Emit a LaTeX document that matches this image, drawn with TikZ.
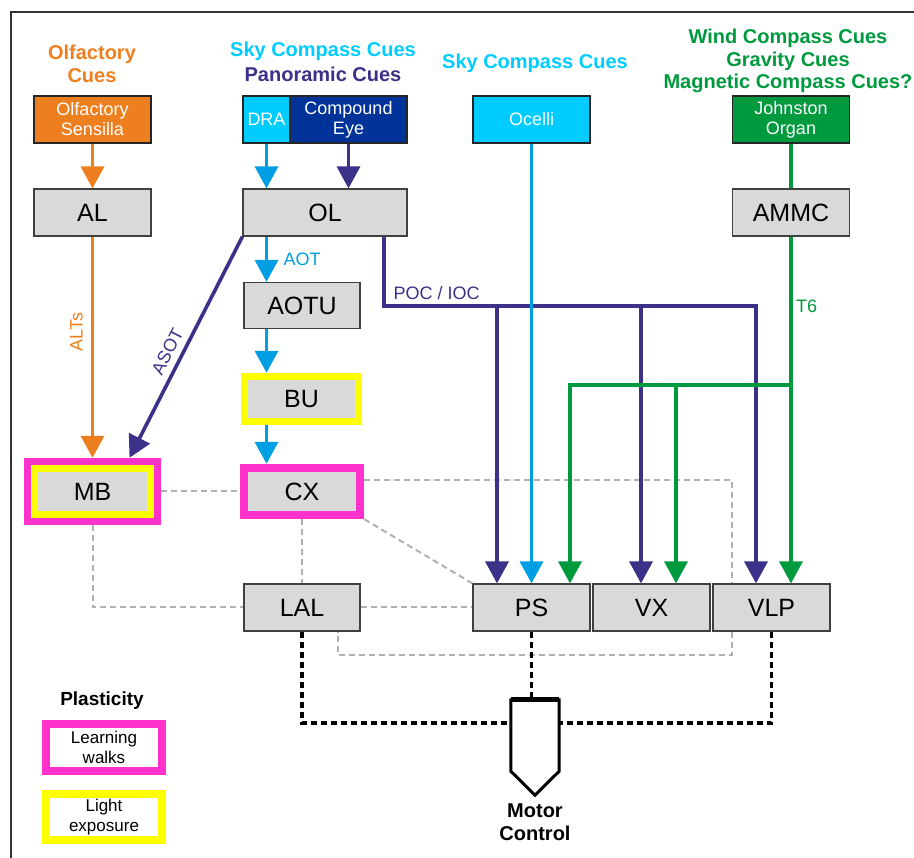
\documentclass[tikz,border=0pt]{standalone}
\usepackage{fontspec}
\setmainfont{Liberation Sans}
\usetikzlibrary{arrows.meta,calc,fit}

\definecolor{olforange}{HTML}{EE7F1E}
\definecolor{skycyan}{HTML}{00CCFF}
\definecolor{skyblue}{HTML}{009FE3}
\definecolor{eyeblue}{HTML}{003399}
\definecolor{panopurple}{HTML}{3B3189}
\definecolor{windgreen}{HTML}{009A3E}
\definecolor{regiongray}{HTML}{D9D9D9}
\definecolor{learnpink}{HTML}{FF33CC}
\definecolor{lightyellow}{HTML}{FFFF00}
\definecolor{linkgray}{HTML}{B0B0B0}

\begin{document}
\begin{tikzpicture}[
  x=1pt,y=-1pt,
  region/.style={draw=black!75,fill=regiongray,line width=1.2pt,minimum width=117pt,minimum height=47pt,inner sep=0pt,font=\fontsize{25}{28}\selectfont},
  organ/.style={draw=black!85,line width=1.2pt,minimum width=117pt,minimum height=47pt,inner sep=0pt,text=white,align=center,font=\fontsize{18}{20}\selectfont},
  core/.style={fill=regiongray,inner sep=0pt,font=\fontsize{25}{28}\selectfont},
  ring/.style={draw=#1,line width=7pt,inner sep=3.5pt},
  cue/.style={font=\bfseries\fontsize{20}{22.5}\selectfont,align=center},
  tract/.style={draw=#1,line width=3.6pt},
  feed/.style={tract=#1,-{Triangle[width=23pt,length=22pt]}},
  tractlabel/.style={font=\fontsize{18}{20}\selectfont,text=#1},
  link/.style={draw=linkgray,line width=2pt,dash pattern=on 6pt off 4pt},
  motorlink/.style={draw=black,line width=3.8pt,dash pattern=on 6pt off 4pt}
]
\useasboundingbox (0,0) rectangle (914,858);
\draw[black!80,line width=1.5pt] (11,858) -- (11,12) -- (914,12);

% Sensory cues and the organs that pick them up.
\node[cue,text=olforange] (olfcue) at (92,64) {Olfactory\\Cues};
\node[cue,text=skycyan] (skycue) at (323,51) {Sky Compass Cues};
\node[cue,text=panopurple] (panocue) at (323,74) {Panoramic Cues};
\node[cue,text=skycyan] (ocellicue) at (535,63) {Sky Compass Cues};
\node[cue,text=windgreen] (windcue) at (788,61) {Wind Compass Cues\\Gravity Cues\\Magnetic Compass Cues?};

\node[organ,fill=olforange] (sens) at (92.5,119.5) {Olfactory\\Sensilla};
\node[organ,fill=skycyan,minimum width=47pt] (dra) at (266.5,119.5) {DRA};
\node[organ,fill=eyeblue] (eye) at (348.5,119.5) {Compound\\Eye};
\node[organ,fill=skycyan] (oc) at (531.5,119.5) {Ocelli};
\node[organ,fill=windgreen] (jo) at (791,119.5) {Johnston\\Organ};

% Brain regions.
\node[region] (al) at (92.5,212.5) {AL};
\node[region,minimum width=164pt] (ol) at (325,212.5) {OL};
\node[region] (ammc) at (791,212.5) {AMMC};
\node[region,minimum width=116pt,minimum height=46pt] (aotu) at (302,305.5) {AOTU};
\node[region,minimum width=116pt] (lal) at (302,607.5) {LAL};
\node[region] (ps) at (531.5,607.5) {PS};
\node[region] (vx) at (651.5,607.5) {VX};
\node[region] (vlp) at (771.5,607.5) {VLP};

\node[core,minimum width=107pt,minimum height=38pt] (bucore) at (301.5,399) {BU};
\node[ring=lightyellow,fit=(bucore)] (bu) {};
\node[core,minimum width=109pt,minimum height=39pt] (mbcore) at (92.5,491.5) {MB};
\node[ring=lightyellow,fit=(mbcore)] (mbinner) {};
\node[ring=learnpink,fit=(mbcore),inner sep=10.5pt] (mb) {};
\node[core,minimum width=108pt,minimum height=39pt] (cxcore) at (302,491.5) {CX};
\node[ring=learnpink,fit=(cxcore),line width=8pt,inner sep=4pt] (cx) {};

% Interconnections between neuropils.
\draw[link] (mb) -- (cx);
\draw[link] (mb) |- (lal);
\draw[link] (cx) -- (lal);
\draw[link] (cx.south east) -- (ps.north west);
\draw[link] (lal) -- (ps);
\draw[link] ([yshift=-16pt]cx.north east) -| ([xshift=20pt]vlp.north west);
\draw[link] ([xshift=20pt]vlp.south west) -- ++(0,23) -| ([xshift=-23pt]lal.south east);

% Olfactory and visual pathways.
\draw[feed=olforange] (sens) -- (al);
\draw[feed=olforange] (al) -- node[tractlabel=olforange,rotate=90,anchor=south,inner sep=8pt,pos=.43] (altslabel) {ALTs} (mb);
\draw[feed=skyblue] (dra) -- (dra |- ol.north);
\draw[feed=panopurple] (eye) -- (eye |- ol.north);
\draw[feed=skyblue] (ol.south -| dra) -- node[tractlabel=skyblue,right,xshift=12pt] (aotlabel) {AOT} (aotu.north -| dra);
\draw[feed=skyblue] (aotu.south -| dra) -- (bu.north -| dra);
\draw[feed=skyblue] (bu.south -| dra) -- (cx.north -| dra);
\draw[feed=panopurple] (ol.south west) -- node[tractlabel=panopurple,sloped,above=3pt,pos=.55] (asotlabel) {ASOT} ([xshift=37pt]mb.north);

\coordinate (poc) at (384,306);
\draw[feed=panopurple] (ol.south -| poc) -- (poc) -| ([xshift=-15.5pt]vlp.north);
\node[tractlabel=panopurple,anchor=base west] (poclabel) at ([xshift=6pt,yshift=6pt]poc) {POC / IOC};
\draw[feed=panopurple] ([xshift=-34.5pt]ps.north |- poc) -- ([xshift=-34.5pt]ps.north);
\draw[feed=panopurple] ([xshift=-10.5pt]vx.north |- poc) -- ([xshift=-10.5pt]vx.north);
\draw[feed=skyblue] (oc) -- (ps);

% Mechanosensory pathway.
\draw[tract=windgreen] (jo) -- (ammc);
\draw[feed=windgreen] (ammc) -- node[tractlabel=windgreen,right,pos=.2] (t6label) {T6} (ammc |- vlp.north);
\coordinate (gbar) at (791,385);
\draw[feed=windgreen] (gbar) -| ([xshift=38.5pt]ps.north);
\draw[feed=windgreen] ([xshift=24.5pt]vx.north |- gbar) -- ([xshift=24.5pt]vx.north);

% Motor output.
\node[minimum width=48pt,minimum height=71pt,inner sep=0pt] (motor) at (535,735.5) {};
\draw[motorlink] (lal) |- ([yshift=12.5pt]motor.west);
\draw[motorlink] (vlp) |- ([yshift=12.5pt]motor.east);
\draw[motorlink] (ps.south) -- (ps.south |- motor.north);
\filldraw[fill=white,draw=black,line width=3pt,line join=miter] (motor.north west) -- (motor.south west) -- ([yshift=-24pt]motor.south) -- (motor.south east) -- (motor.north east) -- cycle;
\draw[line width=5pt] (motor.north west) -- (motor.north east);
\node[cue] (motorlabel) at (535,822) {Motor\\Control};

% Legend.
\node[cue,font=\bfseries\fontsize{19}{22}\selectfont] (plasticity) at (102,701) {Plasticity};
\node[core,fill=white,minimum width=108pt,minimum height=39pt,align=center,font=\fontsize{17}{20}\selectfont] (walkcore) at (104,747.5) {Learning\\walks};
\node[ring=learnpink,fit=(walkcore),line width=8pt,inner sep=4pt] (walks) {};
\node[core,fill=white,minimum width=108pt,minimum height=38pt,align=center,font=\fontsize{17}{20}\selectfont] (lightcore) at (104,817) {Light\\exposure};
\node[ring=lightyellow,fit=(lightcore),line width=8pt,inner sep=4pt] (light) {};
\end{tikzpicture}
\end{document}
